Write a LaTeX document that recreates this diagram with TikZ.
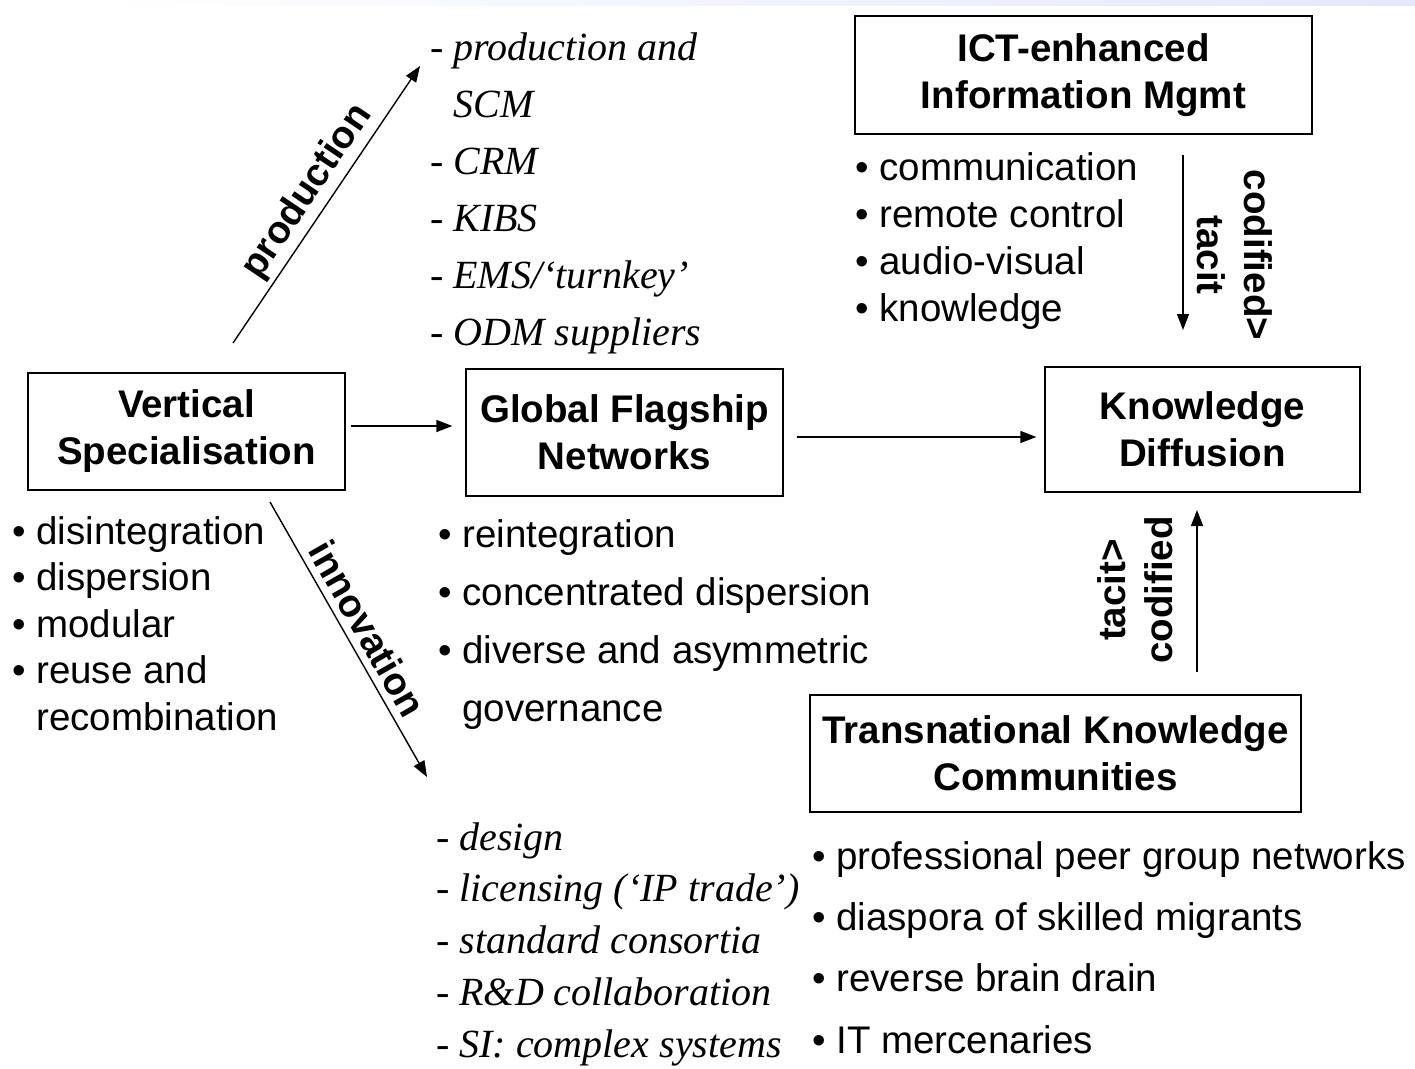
\documentclass[tikz,border=0pt]{standalone}
\usepackage{fontspec}
\setmainfont{Liberation Serif}
\setsansfont{Liberation Sans}
\usetikzlibrary{arrows.meta,positioning}
\newcommand{\boxfont}{\sffamily\bfseries\fontsize{38.5}{47}\selectfont}
\tikzset{
  box/.style={draw,line width=1.3pt,align=center,font=\boxfont,inner sep=0pt},
  bul/.style={anchor=base west,align=left,inner sep=0pt,font=\sffamily\fontsize{38.5}{#1}\selectfont},
  dsh/.style={anchor=base west,align=left,inner sep=0pt,font=\itshape\fontsize{40}{#1}\selectfont},
  lbl/.style={align=center,inner sep=0pt,font=\boxfont},
  arr/.style={line width=1.4pt,-{Triangle[length=16pt,width=12pt]}}
}
\begin{document}
\begin{tikzpicture}[x=1pt,y=-1pt]
\useasboundingbox (0,0) rectangle (1415,1068);
\shade[left color=white,right color=blue!10] (100,0) rectangle (1415,5);
% boxes
\node[box,minimum width=317pt,minimum height=117pt] (vs) at (186.5,431.5) {Vertical\\Specialisation};
\node[box,minimum width=317pt,minimum height=127pt] (gfn) at (624.5,432.5) {Global Flagship\\Networks};
\node[box,minimum width=315pt,minimum height=125pt] (kd) at (1202.5,429.5) {Knowledge\\Diffusion};
\node[box,minimum width=457pt,minimum height=118pt] (ict) at (1083.5,75) {ICT-enhanced\\Information Mgmt};
\node[box,minimum width=491pt,minimum height=117pt] (tkc) at (1055.5,753.5) {Transnational Knowledge\\Communities};
% lists (placed by the baseline of their last line)
\node[bul=46.5] (vslist) at (12,730) {• disintegration\\• dispersion\\• modular\\• reuse and\\\hphantom{• }recombination};
\node[bul=58] (gfnlist) at (438,721) {• reintegration\\• concentrated dispersion\\• diverse and asymmetric\\\hphantom{• }governance};
\node[bul=47] (ictlist) at (855,321) {• communication\\• remote control\\• audio-visual\\• knowledge};
\node[bul=61.3] (tkclist) at (812,1053) {• professional peer group networks\\• diaspora of skilled migrants\\• reverse brain drain\\• IT mercenaries};
\node[dsh=57] (prodlist) at (430,345) {- production and\\\hphantom{- }SCM\\- CRM\\- KIBS\\- EMS/`turnkey'\\- ODM suppliers};
\node[dsh=51.7] (innolist) at (436,1057) {- design\\- licensing (`IP trade')\\- standard consortia\\- R\&D collaboration\\- SI: complex systems};
% arrows
\coordinate (prodfrom) at (233,343);
\coordinate (prodto) at (420,66);
\coordinate (innofrom) at (270,502);
\coordinate (innoto) at (427,777);
\coordinate (ictfrom) at (1183,155);
\coordinate (ictto) at (1183,330);
\coordinate (tkcfrom) at (1197,672);
\coordinate (tkcto) at (1197,510);
\draw[arr,shorten <=5pt,shorten >=13pt] ([yshift=5.5pt]vs.east) -- ([yshift=6.5pt]gfn.west);
\draw[arr,shorten <=13pt,shorten >=8pt] ([yshift=-4.5pt]gfn.east) -- ([yshift=-7.5pt]kd.west);
\draw[arr] (prodfrom) -- node[lbl,sloped,above=4pt] {production} (prodto);
\draw[arr] (innofrom) -- node[lbl,sloped,above=7pt] {innovation} (innoto);
\draw[arr] (ictfrom) -- (ictto);
\draw[arr] (tkcfrom) -- (tkcto);
\node[lbl,rotate=-90] (codtac) at (1235,255) {codified>\\tacit};
\node[lbl,rotate=90] (taccod) at (1135,590) {tacit>\\codified};
\end{tikzpicture}
\end{document}
